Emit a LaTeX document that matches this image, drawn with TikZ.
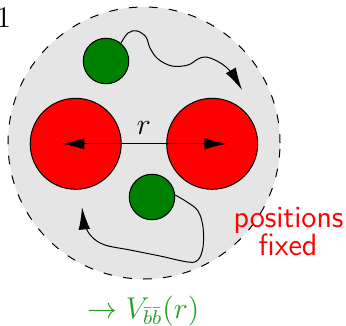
\documentclass[tikz,border=0pt]{standalone}
\usetikzlibrary{arrows.meta}
\definecolor{ggreen}{RGB}{0,128,0}
\definecolor{tgreen}{RGB}{40,160,40}
\begin{document}
\begin{tikzpicture}[x=0.4pt,y=0.4pt,
  ball/.style={circle,draw,inner sep=0pt,line width=0.4pt},
  fixedball/.style={ball,fill=red,minimum size=36.4pt},
  freeball/.style={ball,fill=ggreen,minimum size=18.2pt},
  tip/.tip={Latex[length=9pt,width=4.6pt]},
  walk/.style={line width=0.4pt,-tip},
  lbl/.style={inner sep=0pt,anchor=base,font=\fontsize{12}{14}\selectfont},
  sflbl/.style={inner sep=0pt,anchor=base,text=red,font=\fontsize{12.3}{14}\selectfont\sffamily}]
\useasboundingbox (0,0) rectangle (346,-326);
\node[circle,draw,dash pattern=on 3.5pt off 4.5pt,fill=black!10,minimum size=108.8pt,inner sep=0pt] (domain) at (144,-143) {};
\node[lbl,anchor=base west] (one) at (-4.2,-28) {1};
\node[fixedball] (R1) at (75.7,-143.8) {};
\node[fixedball] (R2) at (212.2,-143.8) {};
\node[freeball] (g1) at (106,-61) {};
\node[freeball] (g2) at (152,-197) {};
\draw[tip-tip] ([xshift=-5.5pt]R1.center) -- ([xshift=5.9pt]R2.center);
\node[lbl] (rlab) at (144,-135) {$r$};
\coordinate (tipA) at (242,-90);
\coordinate (tipB) at (82,-207);
\draw[walk] plot[smooth,tension=0.6] coordinates {(g1.50) (128,-33) (137,-31) (146,-37) (150,-48) (158,-59) (172,-66) (188,-65) (198,-59) (206,-57) (217,-61) (226,-67) (233,-75) (tipA)};
\draw[walk] plot[smooth,tension=0.6] coordinates {(g2.5) (187,-202) (198,-211) (203,-227) (203,-247) (198,-260) (188,-262) (160,-256) (130,-250) (105,-245) (92,-237) (85,-225) (tipB)};
\node[sflbl] (pos) at (288.5,-227) {positions};
\node[sflbl] (fix) at (288,-255) {fixed};
\node[lbl,text=tgreen] (pot) at (143.5,-318) {$\rightarrow V_{\bar b\bar b}(r)$};
\end{tikzpicture}
\end{document}
